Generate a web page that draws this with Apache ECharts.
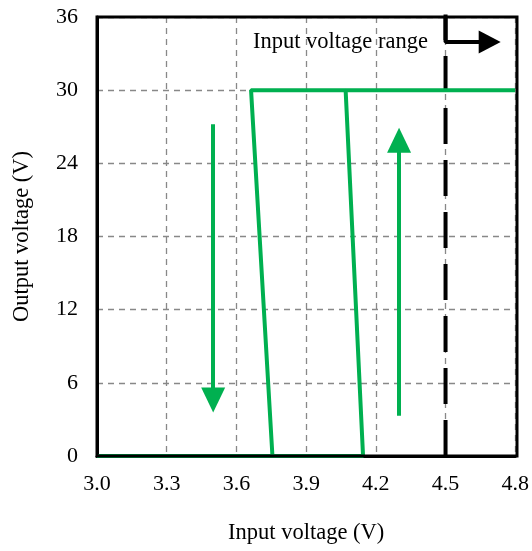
<!DOCTYPE html>
<html><head><meta charset="utf-8">
<script src="https://cdn.jsdelivr.net/npm/echarts@6/dist/echarts.min.js"></script>
<style>html,body{margin:0;padding:0;background:#fff}#c{width:532px;height:551px}</style>
</head><body><div id="c"></div>
<script>
var xTicks = [3.0, 3.3, 3.6, 3.9, 4.2, 4.5, 4.8];
var yTicks = [0, 6, 12, 18, 24, 30, 36];
// hysteresis curve (input V, output V)
var riseCurve = [[3.0, 0], [4.145, 0], [4.07, 30], [4.8, 30]];
var fallCurve = [[4.07, 30], [3.663, 30], [3.755, 0]];
var downArrow = [[3.5, 27.2], [3.5, 4.6]];
var upArrow = [[4.3, 3.3], [4.3, 25.9]];
var rangeLine = [[4.5, 0], [4.5, 36]];
var rangeBracket = [[4.5, 36.2], [4.5, 33.94], [4.65, 33.94]];
var rangeHead = [[4.6, 33.94], [4.69, 33.94]];
var rangeText = 'Input voltage range';

var font = 'Liberation Serif';
var green = '#00B050';
var chart = echarts.init(document.getElementById('c'));
chart.setOption({
  animation: false,
  grid: {left: 97, right: 15, top: 17, bottom: 95},
  xAxis: {
    type: 'value', min: 3.0, max: 4.8, interval: 0.3,
    name: 'Input voltage (V)', nameLocation: 'middle', nameGap: 66,
    nameTextStyle: {fontFamily: font, fontSize: 22.5, color: '#000'},
    axisLine: {show: true, onZero: false, lineStyle: {color: '#000', width: 3}},
    axisTick: {show: false},
    axisLabel: {fontFamily: font, fontSize: 22, color: '#000', margin: 17, formatter: function(v){return v.toFixed(1);}},
    splitLine: {show: true, lineStyle: {color: '#888', type: [6, 5], width: 1.3}}
  },
  yAxis: {
    type: 'value', min: 0, max: 36, interval: 6,
    name: 'Output voltage (V)', nameLocation: 'middle', nameGap: 63,
    nameTextStyle: {fontFamily: font, fontSize: 22.5, color: '#000'},
    axisLine: {show: true, onZero: false, lineStyle: {color: '#000', width: 3}},
    axisTick: {show: false},
    axisLabel: {fontFamily: font, fontSize: 22, color: '#000', margin: 19},
    splitLine: {show: true, lineStyle: {color: '#888', type: [6, 5], width: 1.3}}
  },
  graphic: [
    {type: 'rect', shape: {x: 97, y: 17, width: 420, height: 439}, style: {fill: 'none', stroke: '#000', lineWidth: 3}, z: 50},
    {type: 'text', left: 253, top: 31, style: {text: rangeText, fontFamily: font, fontSize: 22.5, fill: '#000'}, z: 60}
  ],
  series: [
    {type: 'line', data: rangeLine, symbol: 'none', z: 5, clip: false,
     lineStyle: {color: '#000', width: 4, type: [36, 16]}},
    {type: 'line', data: rangeBracket, symbol: 'none', z: 6, clip: false,
     lineStyle: {color: '#000', width: 4}},
    {type: 'line', data: rangeHead, symbol: 'none', z: 6, lineStyle: {width: 0, opacity: 0},
     markLine: {silent: true, symbol: ['none', 'triangle'], symbolSize: [23, 22], animation: false,
       lineStyle: {color: '#000', width: 0.01, type: 'solid'}, label: {show: false},
       data: [[{coord: rangeHead[0]}, {coord: rangeHead[1]}]]}},
    {type: 'line', data: riseCurve, symbol: 'none', z: 10, clip: false,
     lineStyle: {color: green, width: 4}},
    {type: 'line', data: fallCurve, symbol: 'none', z: 10, clip: false,
     lineStyle: {color: green, width: 4}},
    {type: 'line', data: downArrow, symbol: 'none', z: 10, lineStyle: {width: 0, opacity: 0},
     markLine: {silent: true, symbol: ['none', 'triangle'], symbolSize: [24, 25], animation: false,
       lineStyle: {color: green, width: 4, type: 'solid'}, label: {show: false},
       data: [[{coord: downArrow[0]}, {coord: downArrow[1]}]]}},
    {type: 'line', data: upArrow, symbol: 'none', z: 10, lineStyle: {width: 0, opacity: 0},
     markLine: {silent: true, symbol: ['none', 'triangle'], symbolSize: [24, 25], animation: false,
       lineStyle: {color: green, width: 4, type: 'solid'}, label: {show: false},
       data: [[{coord: upArrow[0]}, {coord: upArrow[1]}]]}}
  ]
});
</script></body></html>
